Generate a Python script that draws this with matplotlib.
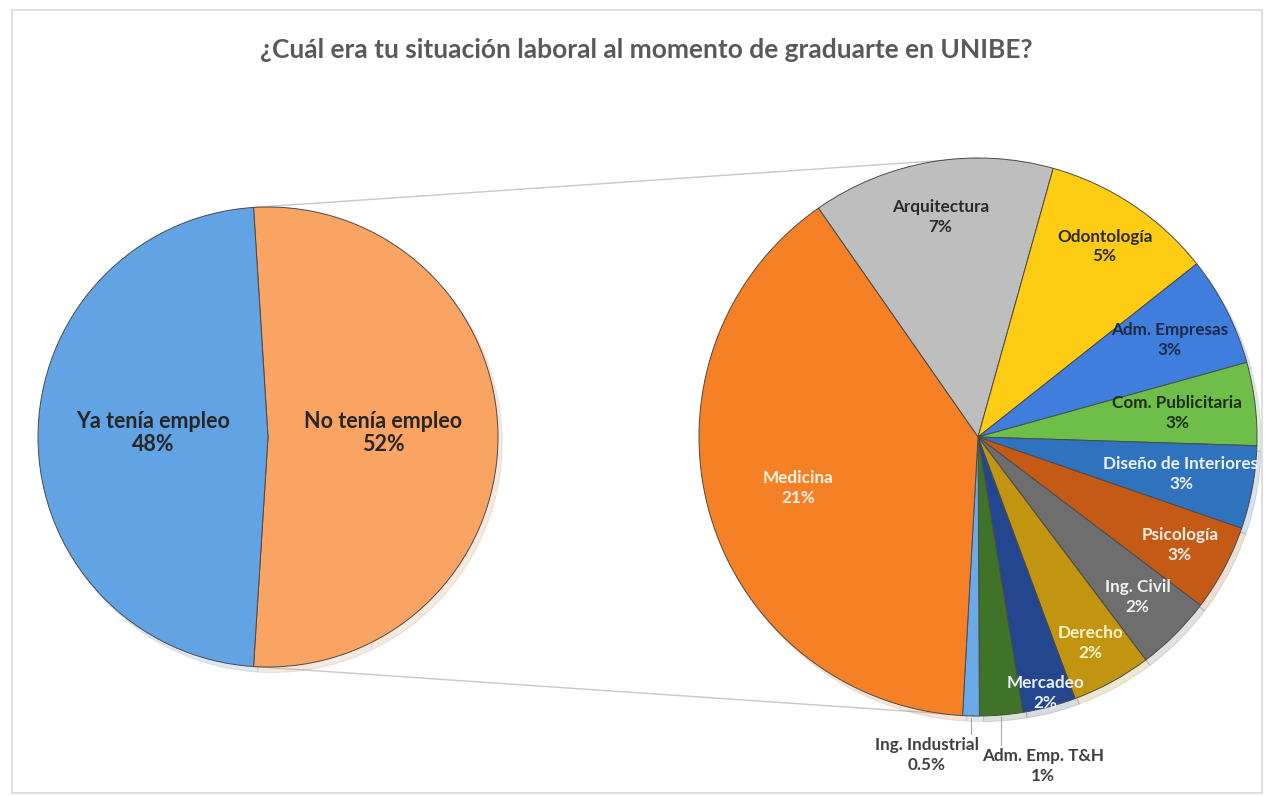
import matplotlib
matplotlib.use("Agg")
import matplotlib.pyplot as plt
import numpy as np
from matplotlib.patches import Rectangle

plt.rcParams["font.family"] = ["Lato", "DejaVu Sans"]

TITLE = "¿Cuál era tu situación laboral al momento de graduarte en UNIBE?"

# main pie: share of graduates (%)
main_labels = ["No tenía empleo", "Ya tenía empleo"]
main_values = [52, 48]
main_colors = ["#F9A462", "#62A3E4"]

# breakdown of "No tenía empleo" by career (% of all graduates)
sub_labels = ["Arquitectura", "Odontología", "Adm. Empresas", "Com. Publicitaria",
              "Diseño de Interiores", "Psicología", "Ing. Civil", "Derecho",
              "Mercadeo", "Adm. Emp. T&H", "Ing. Industrial", "Medicina"]
sub_values = [7.3, 5.2, 3.3, 2.5, 2.5, 2.6, 2.3, 2.4, 1.6, 1.3, 0.5, 20.5]
sub_pct_text = ["7%", "5%", "3%", "3%", "3%", "3%", "2%", "2%", "2%", "1%", "0.5%", "21%"]
sub_colors = ["#BEBEBE", "#FFCC14", "#3F7EDC", "#6DBF4A", "#2F72BE", "#C55A17",
              "#6E6E6E", "#C1950F", "#24468F", "#3E7328", "#6AAAE8", "#F58025"]
sub_text_colors = ["#2b2b2b", "#2b2b2b", "#1c2b45", "#1f2d16", "#eef3fb", "#fbeee4",
                   "#f2f2f2", "#fff3cc", "#eef1f8", "#404040", "#404040", "#fff2e6"]
# radial position of each label as fraction of radius (None = outside w/ leader)
sub_label_r = [0.80, 0.82, 0.77, 0.72, 0.74, 0.82, 0.81, 0.84, 0.95, None, None, 0.67]

W, H = 1270, 796
fig = plt.figure(figsize=(12.7, 7.96), dpi=100)
ax = fig.add_axes([0, 0, 1, 1])


def reset_axes():
    ax.set_xlim(0, W)
    ax.set_ylim(0, H)
    ax.set_aspect("equal")
    ax.axis("off")


reset_axes()

# chart frame
ax.add_patch(Rectangle((12, 3), 1250, 783, fill=False, edgecolor="#D9D9D9", lw=1.2))

ax.text(W / 2 + 11, H - 50, TITLE, ha="center", va="center", fontsize=19,
        fontweight="bold", color="#595959")

left_c, left_r = (268, 359), 230
right_c, right_r = (978, 359), 279

edge = dict(edgecolor="#4a4a4a", linewidth=0.7)
shadow = dict(ox=3, oy=-4, shade=0.2, alpha=0.18)

half = main_values[0] / sum(main_values) * 180
wl, _ = ax.pie(main_values, colors=main_colors, startangle=half, counterclock=False,
               center=left_c, radius=left_r, wedgeprops=edge, shadow=shadow, frame=True)
reset_axes()

for w, lab, v in zip(wl, main_labels, main_values):
    mid = np.deg2rad((w.theta1 + w.theta2) / 2)
    x = left_c[0] + 0.5 * left_r * np.cos(mid)
    y = left_c[1] + 0.5 * left_r * np.sin(mid)
    ax.text(x, y + 4, f"{lab}\n{v}%", ha="center", va="center", fontsize=15.5,
            fontweight="bold", color="#262626", linespacing=1.1)

ws, _ = ax.pie(sub_values, colors=sub_colors, startangle=124.9, counterclock=False,
               center=right_c, radius=right_r, wedgeprops=edge, shadow=shadow, frame=True)
reset_axes()

for w, lab, pct, tc, rf in zip(ws, sub_labels, sub_pct_text, sub_text_colors, sub_label_r):
    mid = np.deg2rad((w.theta1 + w.theta2) / 2)
    ex = right_c[0] + right_r * np.cos(mid)
    ey = right_c[1] + right_r * np.sin(mid)
    if rf is None:
        # outside label with vertical leader
        drop = 18 if lab.startswith("Ing") else 30
        ax.plot([ex, ex], [ey - 2, ey - drop], color="#A6A6A6", lw=0.8)
        dx = -44 if lab.startswith("Ing") else 42
        ax.text(ex + dx, ey - drop - 3, f"{lab}\n{pct}", ha="center", va="top",
                fontsize=12.3, fontweight="bold", color=tc, linespacing=1.3)
        continue
    x = right_c[0] + rf * right_r * np.cos(mid)
    y = right_c[1] + rf * right_r * np.sin(mid)
    ax.text(x, y, f"{lab}\n{pct}", ha="center", va="center", fontsize=12.3,
            fontweight="bold", color=tc, linespacing=1.3)

# connector lines from split edge of first pie to top/bottom of second pie
a = np.deg2rad(half)
for sgn in (1, -1):
    x0 = left_c[0] + left_r * np.cos(a)
    y0 = left_c[1] + sgn * left_r * np.sin(a)
    x1 = right_c[0]
    y1 = right_c[1] + sgn * right_r
    ax.plot([x0, x1], [y0, y1], color="#C8C8C8", lw=1.0, zorder=0)

fig.savefig("out.png", dpi=100, facecolor="white")
